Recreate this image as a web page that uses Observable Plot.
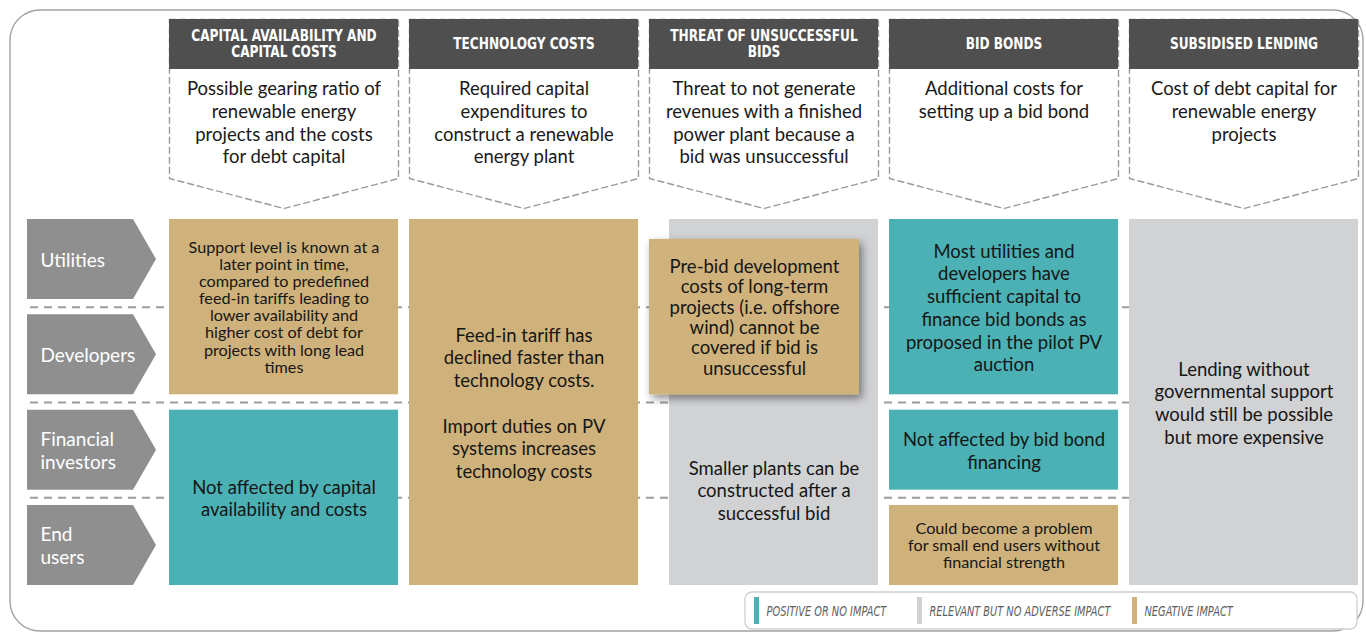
<!DOCTYPE html>
<html><head><meta charset="utf-8">
<script src="https://cdn.jsdelivr.net/npm/d3@7"></script>
<script src="https://cdn.jsdelivr.net/npm/@observablehq/plot@0.6"></script>
<style>
html,body{margin:0;padding:0;background:#fff;}
#chart{width:1366px;height:634px;overflow:hidden;}
</style></head><body><div id="chart"></div>
<script>
// ---------- DATA ----------
const columns = [
  "CAPITAL AVAILABILITY AND\nCAPITAL COSTS",
  "TECHNOLOGY COSTS",
  "THREAT OF UNSUCCESSFUL\nBIDS",
  "BID BONDS",
  "SUBSIDISED LENDING"
];
const descriptions = [
  "Possible gearing ratio of\nrenewable energy\nprojects and the costs\nfor debt capital",
  "Required capital\nexpenditures to\nconstruct a renewable\nenergy plant",
  "Threat to not generate\nrevenues with a finished\npower plant because a\nbid was unsuccessful",
  "Additional costs for\nsetting up a bid bond",
  "Cost of debt capital for\nrenewable energy\nprojects"
];
const stakeholders = ["Utilities", "Developers", "Financial\ninvestors", "End\nusers"];
const impacts = ["POSITIVE OR NO IMPACT", "RELEVANT BUT NO ADVERSE IMPACT", "NEGATIVE IMPACT"];
const impactColors = ["#4bb1b4", "#d1d2d4", "#cfb27b"];

const cellColumn  = [0, 0, 1, 2, 3, 3, 3, 4];
const cellRowFrom = [0, 2, 0, 0, 0, 2, 3, 0];
const cellRowTo   = [1, 3, 3, 3, 1, 2, 3, 3];
const cellImpact  = [2, 0, 2, 1, 0, 0, 2, 1];
const cellText = [
  "Support level is known at a\nlater point in time,\ncompared to predefined\nfeed-in tariffs leading to\nlower availability and\nhigher cost of debt for\nprojects with long lead\ntimes",
  "Not affected by capital\navailability and costs",
  "Feed-in tariff has\ndeclined faster than\ntechnology costs.\n\nImport duties on PV\nsystems increases\ntechnology costs",
  "Smaller plants can be\nconstructed after a\nsuccessful bid",
  "Most utilities and\ndevelopers have\nsufficient capital to\nfinance bid bonds as\nproposed in the pilot PV\nauction",
  "Not affected by bid bond\nfinancing",
  "Could become a problem\nfor small end users without\nfinancial strength",
  "Lending without\ngovernmental support\nwould still be possible\nbut more expensive"
];
// highlighted card lying over a cell
const cardColumn = [2];
const cardRowFrom = [0];
const cardRowTo = [1];
const cardImpact = [2];
const cardText = ["Pre-bid development\ncosts of long-term\nprojects (i.e. offshore\nwind) cannot be\ncovered if bid is\nunsuccessful"];

// ---------- LAYOUT ----------
const W = 1366, H = 634;
const COL0 = 169, COLSTEP = 240, COLW = 229;
const ROW0 = 219, ROWSTEP = 95.33, ROWH = 80;
const cw = COLW / COLSTEP, rh = ROWH / ROWSTEP;
const px = v => (v - COL0) / COLSTEP;
const py = v => (v - ROW0) / ROWSTEP;
const CARD_IN = 20;
const covered = new Set([3]);       // cell lying under the card
const dense = new Set([0, 6]);      // cells with compact text
const BODY = "Lato, 'Open Sans', sans-serif";
const NARROW = "'Liberation Sans Narrow', 'Arial Narrow', 'DejaVu Sans Condensed', sans-serif";
const LEG_X = [754, 917, 1132];

const cells = cellColumn.map((c, i) => ({
  i, col: c, r0: cellRowFrom[i], r1: cellRowTo[i],
  impact: impacts[cellImpact[i]], text: cellText[i]
}));
cells.forEach(d => {
  d.x1 = d.col + (covered.has(d.i) ? CARD_IN / COLSTEP : 0);
  d.x2 = d.col + cw;
  d.y1 = d.r0;
  d.y2 = d.r1 + rh;
  d.tx = (d.x1 + d.x2) / 2;
  d.ty = covered.has(d.i) ? (cardRowTo[0] + rh + d.y2) / 2 : (d.y1 + d.y2) / 2;
});
const cards = cardColumn.map((c, i) => {
  const d = {col: c, impact: impacts[cardImpact[i]], text: cardText[i]};
  d.x1 = c; d.x2 = c + cw - (CARD_IN - 1) / COLSTEP;
  d.y1 = cardRowFrom[i] + CARD_IN / ROWSTEP; d.y2 = cardRowTo[i] + rh;
  d.tx = (d.x1 + d.x2) / 2; d.ty = (d.y1 + d.y2) / 2;
  return d;
});

const HT = py(19), HB = py(69), SB = py(178), TIP = py(208);
const outline = columns.flatMap((c, i) =>
  [[i, HT], [i + cw, HT], [i + cw, SB], [i + cw / 2, TIP], [i, SB], [i, HT]]
    .map(([xv, yv]) => ({col: i, x: xv, y: yv})));
const arrows = stakeholders.flatMap((s, i) => [
  {row: i, y: i, x2: px(133)},
  {row: i, y: i + rh / 2, x2: px(156)},
  {row: i, y: i + rh, x2: px(133)}
]);
const dividers = d3.range(stakeholders.length - 1).map(r => r + rh + (1 - rh) / 2);

const headerText = Plot.text(columns, {x: (d, i) => i + cw / 2, y: () => (HT + HB) / 2 - 0.01, text: d => d,
  fill: "#fff", fontFamily: NARROW, fontWeight: "bold", fontSize: 16, lineHeight: 1.0,
  lineAnchor: "middle"});
const cardRect = Plot.rect(cards, {x1: "x1", x2: "x2", y1: "y1", y2: "y2", fill: "impact"});
const legendText = Plot.text(impacts, {x: (d, i) => px(LEG_X[i] + 12), y: () => py(611), text: d => d,
  textAnchor: "start", fontFamily: NARROW, fontStyle: "italic", fontSize: 14, fill: "#5e5e5e"});

const marks = [
  // outer frame
  Plot.rect([0], {x1: () => px(10), x2: () => px(1363), y1: () => py(10), y2: () => py(631),
    rx: 30, fill: "none", stroke: "#a3a3a3", strokeWidth: 1.4}),
  // dashed divider lines between stakeholders
  Plot.ruleY(dividers, {y: d => d, x1: () => px(30), x2: () => 4,
    stroke: "#9c9c9c", strokeWidth: 2, strokeDasharray: "8,6"}),
  // header outlines
  Plot.line(outline, {x: "x", y: "y", z: "col", stroke: "#9a9a9a", strokeWidth: 1.4,
    strokeDasharray: "6,4"}),
  Plot.rect(columns, {x1: (d, i) => i, x2: (d, i) => i + cw, y1: () => HT, y2: () => HB, fill: "#4f4f4f"}),
  headerText,
  Plot.text(descriptions, {x: (d, i) => i + cw / 2, y: () => py(78.5), text: d => d,
    fill: "#1a1a1a", fontFamily: BODY, fontSize: 18.5, lineHeight: 1.23, lineAnchor: "top"}),
  // stakeholder arrows
  Plot.areaX(arrows, {y: "y", x1: () => px(27), x2: "x2", z: "row", fill: "#8f8f8f"}),
  Plot.text(stakeholders, {x: () => px(40), y: (d, i) => i + rh / 2, text: d => d,
    textAnchor: "start", fill: "#fff", fontFamily: BODY, fontSize: 19, lineHeight: 1.2}),
  // impact cells
  Plot.rect(cells, {x1: "x1", x2: "x2", y1: "y1", y2: "y2", fill: "impact"}),
  Plot.text(cells.filter(d => !dense.has(d.i)), {x: "tx", y: "ty", text: "text",
    fill: "#161616", fontFamily: BODY, fontSize: 18.5, lineHeight: 1.23}),
  Plot.text(cells.filter(d => dense.has(d.i)), {x: "tx", y: "ty", text: "text",
    fill: "#161616", fontFamily: BODY, fontSize: 16.2, lineHeight: 1.06}),
  // card
  cardRect,
  Plot.text(cards, {x: "tx", y: "ty", text: "text",
    fill: "#161616", fontFamily: BODY, fontSize: 18.5, lineHeight: 1.1}),
  // legend
  Plot.rect([0], {x1: () => px(745), x2: () => px(1357), y1: () => py(592), y2: () => py(629),
    rx: 7, fill: "#fff", stroke: "#cfcfcf", strokeWidth: 1.3}),
  Plot.rect(impacts, {x1: (d, i) => px(LEG_X[i]), x2: (d, i) => px(LEG_X[i] + 5),
    y1: () => py(597), y2: () => py(624), fill: d => d}),
  legendText
];

const svg = Plot.plot({
  width: W, height: H,
  marginTop: 0, marginRight: 0, marginBottom: 0, marginLeft: 0,
  x: {domain: [px(0), px(W)], range: [0, W], axis: null},
  y: {domain: [py(0), py(H)], range: [0, H], axis: null},
  color: {domain: impacts, range: impactColors},
  style: {background: "#fff"},
  marks
});

const root = d3.select(svg);
const groups = Array.from(svg.children).filter(n => n.tagName.toLowerCase() === "g");
const groupOf = m => groups[marks.indexOf(m)];
const defs = root.insert("defs", ":first-child");
const f = defs.append("filter").attr("id", "cardShadow")
  .attr("x", "-20%").attr("y", "-20%").attr("width", "150%").attr("height", "150%");
f.append("feDropShadow").attr("dx", 3).attr("dy", 4).attr("stdDeviation", 4.5)
  .attr("flood-color", "#000").attr("flood-opacity", 0.45);
if (groupOf(cardRect)) groupOf(cardRect).setAttribute("filter", "url(#cardShadow)");
// condense header and legend lettering horizontally
function condense(g, k) {
  if (!g) return;
  g.querySelectorAll("text").forEach(t => {
    const tr = t.getAttribute("transform") || "";
    t.setAttribute("transform", `${tr} scale(${k},1)`);
  });
}
condense(groupOf(headerText), 0.845);
condense(groupOf(legendText), 0.78);

document.getElementById("chart").appendChild(svg);
</script>
</body></html>
